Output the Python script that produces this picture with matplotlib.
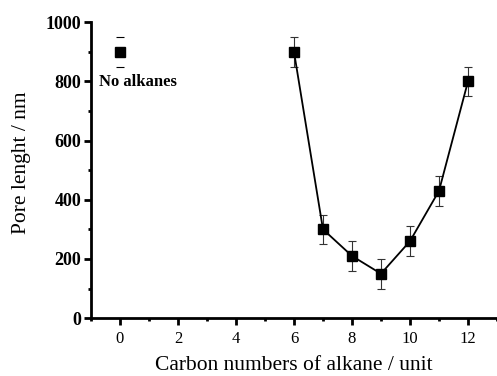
import matplotlib
matplotlib.use("Agg")
import matplotlib.pyplot as plt
from matplotlib.ticker import MultipleLocator

# pore length vs. carbon number of the added alkane
carbon_numbers = [6, 7, 8, 9, 10, 11, 12]
pore_length = [900, 300, 210, 150, 260, 430, 800]
pore_err = [50, 50, 50, 50, 50, 50, 50]

# reference sample without alkane
ref_x = [0]
ref_y = [900]
ref_err = [50]

plt.rcParams['font.family'] = ['Liberation Serif', 'DejaVu Serif']

fig = plt.figure(figsize=(4.97, 3.76), dpi=100)
ax = fig.add_axes([0.183, 0.154, 0.817, 0.787])

ax.errorbar(carbon_numbers, pore_length, yerr=pore_err, fmt='s-', color='black',
            ms=6.5, lw=1.3, elinewidth=0.8, ecolor='#333333', capsize=3, capthick=0.8)
ax.errorbar(ref_x, ref_y, yerr=ref_err, fmt='s', color='black', ms=6.5,
            elinewidth=0, capsize=3, capthick=0.8)
ax.text(-0.72, 797, 'No alkanes', fontsize=12, fontweight='bold', va='center', ha='left')

ax.set_xlim(-1, 13)
ax.set_ylim(0, 1000)
ax.xaxis.set_major_locator(MultipleLocator(2))
ax.xaxis.set_minor_locator(MultipleLocator(1))
ax.yaxis.set_major_locator(MultipleLocator(200))
ax.yaxis.set_minor_locator(MultipleLocator(100))

for side in ('top', 'right'):
    ax.spines[side].set_visible(False)
for side in ('left', 'bottom'):
    ax.spines[side].set_linewidth(2)

ax.tick_params(which='major', direction='out', length=5, width=2)
ax.tick_params(which='minor', direction='out', length=2.5, width=2)
ax.tick_params(axis='x', labelsize=12, pad=4)
ax.tick_params(axis='y', labelsize=13, pad=2)
for lbl in ax.get_yticklabels():
    lbl.set_fontweight('bold')

ax.set_xlabel('Carbon numbers of alkane / unit', fontsize=15.5)
ax.set_ylabel('Pore lenght / nm', fontsize=15.5)
ax.xaxis.set_label_coords(0.499, -0.176, transform=ax.transAxes)
ax.xaxis.label.set_va('baseline')
ax.yaxis.set_label_coords(-0.148, 0.525, transform=ax.transAxes)

fig.savefig('out.png', dpi=100)
